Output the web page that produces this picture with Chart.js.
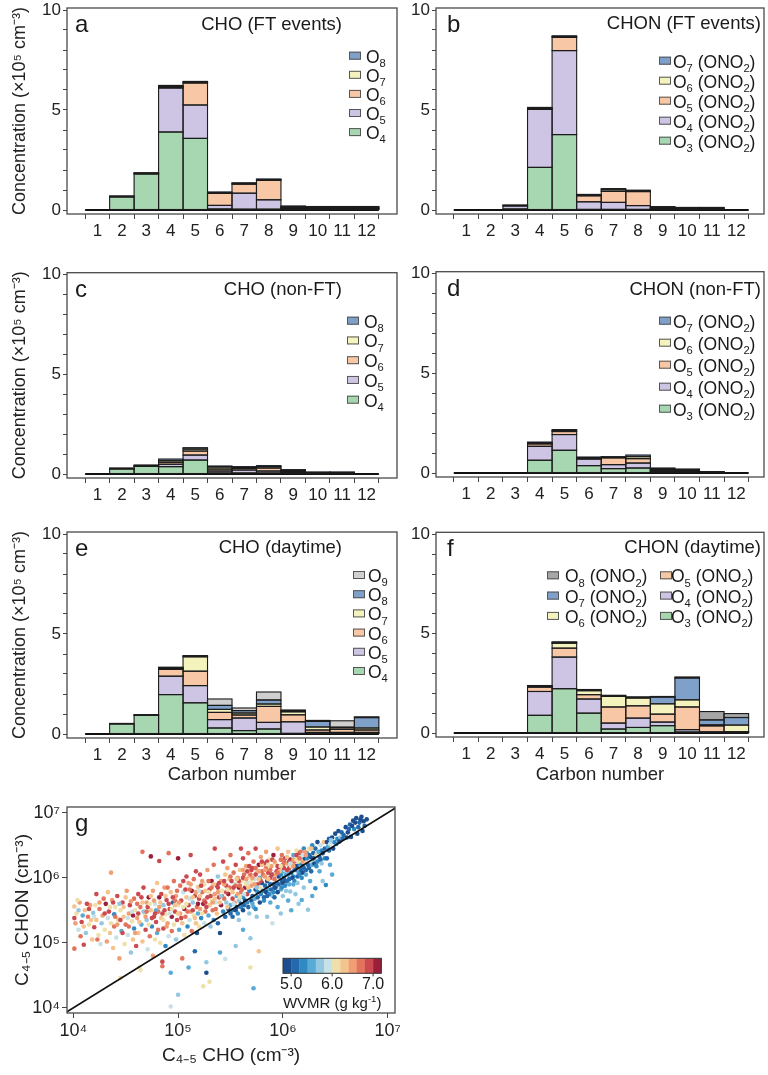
<!DOCTYPE html>
<html><head><meta charset="utf-8">
<script src="https://cdn.jsdelivr.net/npm/chart.js@4.4.0/dist/chart.umd.min.js"></script>
<style>
html,body{margin:0;padding:0;background:#fff;}
#wrap{position:relative;width:768px;height:1075px;overflow:hidden;background:#fff;}
canvas{position:absolute;}
</style></head><body><div id="wrap">
<canvas id="ca" width="400" height="250" style="left:0;top:0"></canvas>
<canvas id="cb" width="368" height="250" style="left:400px;top:0"></canvas>
<canvas id="cc" width="400" height="250" style="left:0;top:260px"></canvas>
<canvas id="cd" width="368" height="250" style="left:400px;top:260px"></canvas>
<canvas id="ce" width="400" height="270" style="left:0;top:520px"></canvas>
<canvas id="cf" width="368" height="270" style="left:400px;top:520px"></canvas>
<canvas id="cg" width="400" height="285" style="left:0;top:790px"></canvas>
</div>
<script>
// ---------------- DATA ----------------
const CARBON = [1,2,3,4,5,6,7,8,9,10,11,12];
const Y_TICKS = [0,1,2,3,4,5,6,7,8,9,10];

// a: CHO (FT events)  (x10^5 cm^-3)
const A_O4 = [0,0.65,1.80,3.90,3.58,0.05,0.04,0.04,0.04,0.035,0.035,0.035];
const A_O5 = [0,0.04,0.03,2.20,1.67,0.18,0.80,0.47,0.04,0.035,0.035,0.035];
const A_O6 = [0,0.01,0.02,0.05,1.10,0.60,0.45,0.97,0.04,0.035,0.035,0.035];
const A_O7 = [0,0,0.01,0.04,0.04,0.04,0.04,0.04,0.04,0.035,0.035,0.035];
const A_O8 = [0,0,0,0.04,0.04,0.03,0.03,0.03,0.04,0.035,0.035,0.035];
// b: CHON (FT events)
const B_O3 = [0,0,0.05,2.13,3.77,0.03,0.03,0.03,0.03,0.03,0.03,0];
const B_O4 = [0,0,0.15,2.90,4.20,0.38,0.35,0.19,0.04,0.03,0.03,0];
const B_O5 = [0,0,0.03,0.03,0.66,0.30,0.55,0.70,0.04,0.03,0.03,0];
const B_O6 = [0,0,0.02,0.04,0.04,0.04,0.08,0.04,0.03,0.02,0.02,0];
const B_O7 = [0,0,0,0.03,0.04,0.03,0.06,0.03,0.03,0.02,0.02,0];
// c: CHO (non-FT)
const C_O4 = [0,0.25,0.38,0.37,0.70,0.05,0.05,0.05,0.04,0.02,0.02,0];
const C_O5 = [0,0.03,0.03,0.12,0.25,0.10,0.15,0.10,0.05,0.02,0.02,0];
const C_O6 = [0,0.02,0.02,0.10,0.20,0.10,0.08,0.15,0.05,0.02,0.02,0];
const C_O7 = [0,0,0.02,0.08,0.10,0.10,0.05,0.07,0.04,0.02,0.02,0];
const C_O8 = [0,0,0,0.08,0.07,0.05,0.04,0.05,0.04,0.02,0.02,0];
// d: CHON (non-FT)
const D_O3 = [0,0,0,0.64,1.14,0.37,0.22,0.25,0.05,0.04,0.02,0];
const D_O4 = [0,0,0,0.70,0.79,0.33,0.20,0.25,0.05,0.04,0.02,0];
const D_O5 = [0,0,0,0.12,0.15,0.04,0.34,0.22,0.05,0.04,0.01,0];
const D_O6 = [0,0,0,0.05,0.05,0.03,0.03,0.10,0.05,0.04,0.01,0];
const D_O7 = [0,0,0,0.04,0.05,0.03,0.03,0.08,0.05,0.04,0.01,0];
// e: CHO (daytime)
const E_O4 = [0,0.50,0.93,1.97,1.56,0.30,0.17,0.25,0.03,0.03,0.03,0.03];
const E_O5 = [0,0.03,0.02,0.92,0.86,0.42,0.63,0.33,0.58,0.05,0.05,0.05];
const E_O6 = [0,0,0.02,0.34,0.72,0.36,0.15,0.80,0.35,0.12,0.15,0.12];
const E_O7 = [0,0,0,0.05,0.72,0.15,0.10,0.12,0.15,0.15,0.08,0.10];
const E_O8 = [0,0,0,0.03,0.03,0.20,0.12,0.20,0.05,0.28,0.03,0.52];
const E_O9 = [0,0,0,0.03,0.03,0.32,0.13,0.40,0.04,0.05,0.32,0.04];
// f: CHON (daytime)
const F_O3 = [0,0,0,0.89,2.23,1.00,0.20,0.28,0.37,0.05,0.03,0.02];
const F_O4 = [0,0,0,1.20,1.59,0.71,0.30,0.47,0.18,0.12,0.03,0.02];
const F_O5 = [0,0,0,0.22,0.45,0.22,0.81,0.62,0.40,1.14,0.30,0.03];
const F_O6 = [0,0,0,0.03,0.25,0.20,0.53,0.39,0.52,0.36,0.05,0.33];
const F_O7 = [0,0,0,0.03,0.03,0.03,0.03,0.03,0.34,1.10,0.25,0.38];
const F_O8 = [0,0,0,0.02,0.04,0.03,0.03,0.03,0.03,0.05,0.42,0.20];

// g: [log10 C4-5 CHO, log10 C4-5 CHON, WVMR g/kg]
const G_SAMPLES = [
[4.01,5.56,6.3],[4.01,5.38,6.8],[4.01,4.91,6.7],[4.03,5.45,6.0],[4.05,5.20,5.9],[4.06,5.62,6.4],[4.08,5.32,6.9],[4.10,4.97,6.9],[4.11,5.50,6.2],[4.12,5.15,5.7],[4.14,5.40,6.6],[4.15,5.28,6.1],[4.16,5.58,6.5],[4.18,5.05,6.3],[4.19,5.46,5.6],[4.20,5.24,6.8],
[4.22,5.75,6.9],[4.22,5.35,6.2],[4.24,5.12,6.0],[4.25,5.52,6.6],[4.26,4.98,5.8],[4.28,5.42,6.4],[4.29,5.68,6.7],[4.30,5.20,6.1],[4.31,5.60,7.0],[4.32,5.02,6.5],[4.33,5.38,5.9],[4.34,5.48,6.8],[4.35,5.15,6.3],[4.36,6.08,6.4],[4.36,5.30,6.0],[4.37,5.66,6.5],[4.38,4.92,6.2],[4.39,5.44,5.3],[4.39,5.25,6.6],[4.40,5.55,6.1],
[4.41,5.08,5.9],[4.42,5.72,6.8],[4.43,5.36,6.3],[4.44,4.76,6.4],[4.45,5.50,6.0],[4.45,4.46,6.0],[4.46,5.18,5.5],[4.47,5.62,6.9],[4.48,5.40,6.2],[4.49,4.98,6.1],[4.50,5.28,6.7],[4.51,5.80,6.5],[4.52,5.12,5.8],[4.53,5.45,6.4],[4.54,5.58,6.9],[4.55,4.85,5.6],[4.56,5.33,6.1],[4.57,5.05,6.3],[4.58,5.68,6.6],[4.58,5.22,5.2],[4.59,5.50,6.0],[4.60,4.95,6.8],
[4.61,5.38,6.5],[4.62,5.75,6.9],[4.62,5.15,6.2],[4.63,4.62,6.0],[4.64,4.58,6.1],[4.64,5.55,6.7],[4.65,5.28,5.4],[4.66,6.40,6.7],[4.66,5.02,6.3],[4.67,5.85,6.8],[4.68,5.45,6.0],[4.69,5.20,6.9],[4.70,5.62,6.4],[4.70,5.35,5.6],[4.71,4.90,5.9],[4.72,5.70,7.0],[4.73,5.10,6.6],[4.74,6.33,7.0],[4.74,5.50,6.2],[4.75,5.25,5.2],[4.76,5.80,6.5],[4.76,4.80,6.4],[4.77,5.40,6.8],[4.78,5.05,6.1],[4.78,5.60,5.8],[4.79,5.32,6.9],[4.80,5.92,6.3],[4.80,5.15,5.5],
[4.81,5.48,6.6],[4.82,6.26,6.8],[4.82,5.70,7.0],[4.83,5.00,6.0],[4.84,5.38,6.3],[4.85,4.71,6.8],[4.85,4.64,6.7],[4.86,5.58,5.6],[4.86,5.22,6.9],[4.87,5.85,6.5],[4.88,5.44,6.1],[4.88,4.95,5.3],[4.89,5.66,6.8],[4.90,5.30,6.4],[4.91,6.38,6.7],[4.91,5.10,5.9],[4.92,5.52,6.9],[4.93,4.54,5.5],[4.93,4.02,5.8],[4.93,5.78,6.2],[4.94,5.40,7.0],[4.94,5.18,6.6],[4.95,5.62,5.1],[4.96,5.95,6.6],[4.96,5.28,6.0],[4.97,5.48,6.8],[4.98,5.05,5.7],[4.98,5.72,6.4],[4.99,5.35,6.9],[5.00,6.30,7.0],[5.00,5.58,6.1],[5.00,4.20,5.7],
[5.01,5.20,5.4],[5.02,5.88,6.7],[5.02,5.45,6.5],[5.03,5.65,6.9],[5.04,4.76,6.7],[5.04,5.30,6.2],[5.05,5.78,5.8],[5.06,5.52,7.0],[5.06,5.12,6.0],[5.07,5.40,6.6],[5.08,6.02,6.8],[5.08,5.70,6.3],[5.09,5.25,5.2],[5.10,5.58,6.9],[5.10,5.92,6.5],[5.10,4.62,5.4],[5.11,5.35,5.9],[5.12,6.35,6.8],[5.12,5.48,6.4],[5.13,5.80,7.0],[5.13,5.18,6.7],[5.14,5.62,5.6],[5.15,5.42,6.1],[5.15,5.98,6.6],[5.16,4.87,5.1],[5.16,5.72,6.9],[5.17,5.30,6.3],[5.18,5.15,4.9],[5.18,5.55,6.7],[5.19,5.86,6.2],[5.19,5.45,5.5],[5.20,5.68,6.8],[5.20,5.25,6.0],
[5.21,6.05,6.9],[5.21,5.52,6.4],[5.22,5.38,5.3],[5.23,5.78,6.7],[5.24,4.33,6.0],[5.24,5.60,7.0],[5.25,5.90,6.1],[5.25,5.30,5.8],[5.26,5.48,6.6],[5.27,4.70,5.6],[5.27,4.54,4.9],[5.28,5.70,6.9],[5.28,6.12,6.5],[5.29,5.42,5.4],[5.30,5.82,6.8],[5.30,5.58,6.3],[5.30,4.40,6.1],[5.31,5.25,5.7],[5.32,5.95,7.0],[5.32,5.65,6.0],[5.33,5.50,6.7],[5.34,6.20,6.6],[5.34,5.35,5.2],[5.35,5.75,6.5],[5.35,6.45,6.8],[5.36,5.62,5.9],[5.37,5.88,6.9],[5.37,5.45,6.2],[5.38,6.02,5.6],[5.38,5.30,5.1],[5.39,5.70,6.8],[5.40,5.15,4.9],[5.40,4.85,5.5],
[5.41,5.95,6.4],[5.41,5.58,7.0],[5.42,5.80,6.0],[5.43,6.25,6.9],[5.43,5.48,5.3],[5.44,5.68,6.6],[5.45,6.05,6.2],[5.45,5.40,5.1],[5.45,4.75,5.9],[5.46,5.88,6.8],[5.46,5.62,5.7],[5.47,6.15,6.5],[5.48,5.52,4.9],[5.48,5.75,7.0],[5.49,5.98,6.3],[5.50,5.58,5.5],[5.50,6.35,6.7],[5.51,5.82,6.1],[5.52,5.68,6.9],[5.52,5.50,5.2],[5.53,6.08,6.6],[5.54,5.90,5.9],[5.54,5.62,6.4],[5.55,6.20,6.8],[5.55,4.95,5.6],[5.56,5.72,5.4],[5.56,5.55,4.9],[5.57,6.00,6.5],[5.58,5.85,7.0],[5.58,5.65,5.6],[5.59,6.12,6.2],[5.60,5.78,6.7],[5.60,5.60,5.1],[5.60,6.45,6.9],
[5.61,5.95,6.1],[5.62,6.30,6.8],[5.62,5.70,5.3],[5.62,5.20,5.5],[5.63,6.05,6.6],[5.64,5.85,7.0],[5.64,5.65,4.9],[5.65,6.18,6.4],[5.66,5.92,5.8],[5.66,5.75,6.9],[5.67,6.38,6.6],[5.68,6.02,6.2],[5.68,5.80,5.2],[5.69,5.07,5.6],[5.69,4.62,6.0],[5.70,6.12,6.9],[5.70,5.88,6.5],[5.71,5.72,5.1],[5.72,4.30,5.5],[5.72,6.25,6.7],[5.73,5.98,5.9],[5.74,5.82,4.9],[5.74,6.45,6.9],[5.75,6.08,6.3],[5.76,5.90,6.8],[5.76,5.78,5.2],[5.77,4.87,6.3],[5.77,6.20,7.0],[5.78,6.00,5.5],[5.78,5.85,6.1],[5.79,6.32,6.5],[5.80,5.92,4.9],[5.80,6.10,6.6],
[5.81,5.80,5.3],[5.82,6.22,6.9],[5.82,6.02,6.2],[5.83,5.88,5.1],[5.84,6.15,6.7],[5.84,6.40,6.5],[5.85,5.95,4.9],[5.85,5.40,5.6],[5.86,6.08,6.8],[5.86,5.82,5.4],[5.87,6.28,6.1],[5.88,6.00,6.9],[5.88,5.90,5.0],[5.89,6.18,6.4],[5.90,5.72,5.6],[5.90,6.05,5.2],[5.91,6.35,7.0],[5.92,5.98,6.6],[5.92,5.85,5.1],[5.93,6.22,6.0],[5.94,6.10,6.8],[5.94,5.92,5.3],[5.95,6.45,6.3],[5.95,5.55,5.5],[5.96,6.02,4.9],[5.96,6.15,6.9],[5.97,5.88,5.8],[5.98,6.28,6.6],[5.98,6.05,5.2],[5.99,5.95,5.0],[6.00,6.20,6.7],[6.00,6.10,5.5],
[6.01,6.00,5.1],[6.02,6.30,6.9],[6.02,6.12,5.9],[6.03,5.95,4.9],[6.04,6.22,6.5],[6.05,6.40,6.2],[6.05,6.05,5.3],[6.05,5.65,5.4],[6.06,6.15,6.8],[6.07,5.79,5.6],[6.07,6.28,7.0],[6.08,6.08,4.9],[6.09,6.20,6.3],[6.10,6.35,5.4],[6.10,6.02,5.2],[6.11,6.25,6.7],[6.12,6.12,5.1],[6.12,5.75,5.6],[6.13,6.42,6.0],[6.13,6.18,4.9],[6.14,6.30,6.6],[6.15,6.08,5.5],[6.16,6.38,6.9],[6.16,6.22,5.2],[6.17,6.12,5.0],[6.18,5.66,5.5],[6.18,6.32,5.8],[6.19,6.25,6.4],[6.20,6.15,5.1],[6.20,6.45,5.3],
[6.21,6.30,4.9],[6.22,6.22,6.2],[6.23,6.38,5.4],[6.24,5.51,5.6],[6.24,6.20,5.1],[6.25,6.45,6.0],[6.26,6.32,4.9],[6.27,6.25,5.9],[6.28,6.50,5.2],[6.29,6.38,5.0],[6.30,6.30,5.7],[6.31,5.84,5.3],[6.31,6.45,5.1],[6.32,6.35,6.1],[6.33,6.55,4.9],[6.34,6.40,5.4],[6.35,6.32,5.0],[6.36,6.50,5.8],[6.37,6.42,5.2],[6.38,6.38,4.9],[6.39,6.55,6.3],[6.40,6.45,5.1],
[6.41,5.89,5.2],[6.42,6.55,4.9],[6.43,6.48,5.5],[6.44,6.60,5.1],[6.45,6.52,5.9],[6.47,6.05,5.4],[6.47,6.62,4.9],[6.49,6.55,5.3],[6.50,6.68,4.9],[6.52,6.60,5.2],[6.53,6.72,4.9],[6.55,6.62,5.6],[6.56,6.70,5.0],[6.58,6.66,5.1],[6.60,6.78,4.9],
[6.62,6.70,4.9],[6.64,6.82,5.1],[6.65,6.63,4.9],[6.67,6.88,4.9],[6.68,6.75,5.2],[6.70,6.92,4.9],[6.71,6.68,4.9],[6.73,6.85,5.1],[6.75,6.94,4.9],[6.76,6.72,4.9],[6.78,6.80,5.0],[6.80,6.90,4.9],
[4.02,5.30,6.5],[4.04,5.66,6.1],[4.07,5.10,6.6],[4.09,5.42,5.5],[4.13,5.60,6.9],[4.17,5.35,6.2],[4.21,5.58,6.0],[4.23,5.05,6.7],[4.27,5.30,5.7],[4.33,5.78,6.3],[4.38,5.62,6.8],[4.42,5.28,6.5],[4.44,5.60,5.6],[4.47,5.15,6.8],[4.50,5.70,6.2],[4.52,5.38,5.9],[4.55,5.64,6.5],[4.57,5.42,7.0],[4.59,5.15,6.4],
[4.61,5.60,6.6],[4.63,5.32,6.2],[4.65,5.70,6.9],[4.67,5.48,5.7],[4.69,5.40,6.5],[4.71,5.55,6.8],[4.72,5.28,6.0],[4.74,5.72,6.3],[4.75,5.38,6.9],[4.77,5.65,6.4],[4.79,5.50,5.4],[4.81,5.20,6.7],[4.83,5.62,6.2],[4.84,5.75,6.9],[4.86,5.35,6.0],[4.87,5.50,6.8],[4.89,5.25,6.4],[4.90,5.85,6.6],[4.92,5.45,5.8],[4.95,5.70,6.9],[4.97,5.58,6.3],[4.99,5.80,6.7],
[5.01,5.62,6.4],[5.03,5.38,6.8],[5.05,5.55,6.1],[5.07,5.82,6.9],[5.09,5.48,6.6],[5.11,5.68,5.9],[5.12,5.90,6.4],[5.14,5.50,6.8],[5.16,5.38,6.2],[5.17,5.78,6.5],[5.19,5.60,7.0],[5.21,5.72,6.2],[5.22,5.88,6.8],[5.23,5.45,6.0],[5.25,5.65,6.7],[5.26,5.80,6.3],[5.27,5.55,6.9],[5.29,5.95,6.6],[5.31,5.72,6.9],[5.33,5.62,6.4],[5.34,5.90,6.2],[5.36,5.52,6.7],[5.38,5.78,6.5],[5.39,5.92,6.9],[5.40,5.62,6.3],
[5.42,5.72,6.7],[5.44,5.90,6.5],[5.46,5.78,6.9],[5.47,5.55,6.3],[5.49,5.85,6.6],[5.51,5.95,6.9],[5.52,5.78,6.2],[5.53,5.60,5.8],[5.55,5.88,6.7],[5.57,5.75,6.4],[5.58,5.95,6.9],[5.59,5.70,6.0],[5.61,5.82,6.6],[5.62,6.00,6.8],[5.63,5.75,5.9],[5.65,5.98,6.5],[5.66,6.10,6.9],[5.67,5.85,6.3],[5.69,6.05,6.7],[5.70,5.95,6.1],[5.71,6.15,6.8],[5.73,5.90,6.4],[5.74,6.05,6.9],[5.75,5.85,5.6],[5.77,6.10,6.5],[5.79,5.95,6.8],[5.80,6.20,6.3],
[5.50,5.45,5.1],[5.55,5.50,4.9],[5.60,5.55,5.3],[5.63,5.58,5.0],[5.66,5.62,5.2],[5.70,5.65,4.9],[5.73,5.68,5.4],[5.76,5.70,5.0],[5.79,5.75,5.2],[5.68,5.45,5.6],[5.72,5.55,5.5],[5.75,5.40,5.7],[5.58,5.35,5.6],
[5.81,6.05,6.7],[5.83,6.12,6.4],[5.85,6.25,6.9],[5.86,5.98,6.2],[5.88,6.12,6.6],[5.90,6.28,6.8],[5.91,5.90,5.0],[5.93,6.05,6.4],[5.95,6.18,6.9],[5.97,6.10,6.2],[5.99,6.35,6.6],[6.01,6.15,6.8],[6.03,6.05,5.4],[6.04,6.32,6.3],[6.06,6.25,6.9],[6.08,6.18,6.1],[6.10,6.28,6.5],[6.11,6.12,5.0],[6.13,6.35,6.8],[6.15,6.25,6.0],[6.17,6.40,6.6],[6.19,6.18,5.1],[6.21,6.40,6.4],[6.23,6.30,5.3],[6.25,6.35,5.0],[6.27,6.45,6.2],[6.29,6.30,4.9],
[5.82,5.70,5.0],[5.84,5.78,4.9],[5.87,5.75,5.2],[5.89,5.82,5.0],[5.91,5.78,5.3],[5.93,5.85,4.9],[5.96,5.90,5.1],[5.98,5.82,5.4],[6.00,5.92,4.9],[6.02,5.88,5.2],[6.04,5.95,5.0],[6.06,5.90,5.5],[6.09,6.00,4.9],[6.11,5.95,5.3],[6.14,6.02,5.0],[6.16,6.05,5.2],[6.19,6.08,4.9],[6.22,6.12,5.1],[6.25,6.15,5.0],[6.28,6.20,5.4],[6.30,6.22,4.9],[6.33,6.25,5.2],[6.36,6.28,5.0],[6.20,5.85,5.6],[6.26,5.95,5.5],[6.35,6.10,5.4],[6.00,5.72,5.6],
[6.40,6.30,5.3],[6.44,6.42,5.0],[6.46,6.58,5.6],[6.48,6.45,4.9],[6.51,6.52,5.2],[6.54,6.56,4.9],[6.57,6.60,5.1],[6.61,6.62,4.9],[6.63,6.75,5.0],[6.66,6.80,4.9],[6.69,6.85,4.9],[6.72,6.78,5.0],[6.74,6.90,4.9],[6.77,6.87,4.9],
[5.05,5.95,6.8],[5.08,5.60,6.0],[5.11,5.82,6.7],[5.14,5.70,6.2],[5.17,6.10,6.9],[5.20,5.80,5.9],[5.23,5.95,6.5],[5.26,5.62,6.8],[5.29,5.78,6.1],[5.32,5.85,6.7],[5.35,5.68,6.3],[5.38,5.85,6.9],[5.41,5.72,5.6],[5.44,5.95,6.8],[5.47,5.82,6.1],[5.50,6.02,6.6],[5.53,5.85,6.9],[5.56,5.98,6.3],[5.59,5.88,6.7],[5.62,6.12,6.5],[5.65,5.90,6.0],[5.68,6.18,6.9],[5.71,6.00,6.4],[5.74,6.15,6.7],[5.77,5.98,6.2],[5.80,6.25,6.9],[5.83,6.02,6.5],[5.86,6.20,6.1],[5.89,6.05,6.8],[5.92,6.25,6.4],[5.95,6.08,6.7],[5.98,6.18,6.0],[6.01,6.25,6.6],[6.04,6.12,6.9],[6.07,6.22,5.8],[6.10,6.18,6.4],[6.13,6.28,6.1],[6.16,6.30,6.7],[6.19,6.35,5.9],[6.22,6.35,6.5],
[5.52,5.40,5.0],[5.57,5.45,5.3],[5.62,5.50,4.9],[5.67,5.55,5.1],[5.71,5.60,5.4],[5.74,5.52,5.2],[5.78,5.62,4.9],[5.82,5.65,5.3],[5.85,5.72,5.0],[5.88,5.62,5.5],[5.92,5.70,5.1],[5.95,5.78,4.9],[5.99,5.85,5.3],[6.03,5.80,5.6],[6.06,5.98,5.0],[6.10,5.90,5.4],[6.14,5.92,5.7],[6.18,6.00,5.2],[6.22,6.05,5.5],[6.27,6.10,5.0],[6.32,6.18,5.3],[6.37,6.22,5.6],[6.42,6.30,5.1],[6.15,5.60,5.6],[6.28,5.72,5.5],[6.38,5.95,5.7],[5.98,5.45,5.6],[5.90,5.30,5.8],[6.08,5.50,5.5],[6.45,6.20,5.4],
[4.45,5.35,6.9],[4.48,5.55,6.3],[4.53,5.25,6.7],[4.56,5.48,5.8],[4.62,5.45,6.9],[4.66,5.62,6.3],[4.70,5.48,6.6],[4.73,5.60,6.0],[4.78,5.45,6.9],[4.82,5.55,6.4],[4.85,5.45,6.8],[4.88,5.72,6.2],[4.91,5.60,6.9],[4.94,5.52,6.0],[4.97,5.65,6.7],[5.00,5.45,6.3],[4.10,5.25,6.3],[4.15,5.52,6.9],[4.20,5.40,5.8],[4.25,5.62,6.4],[4.30,5.45,6.8],[4.35,5.55,6.0],[4.40,5.40,6.6],[4.05,5.50,5.6]
];
const G_TICKS = [1e4,1e5,1e6,1e7];
const WV_MIN = 4.8, WV_STEP = 0.2;
const WV_LABELS = [5.0,6.0,7.0];
const CMAP = ['#1d4f8f','#2469ab','#2f8ac4','#5aaad6','#93c8e0','#c8e1e6','#eee0a8','#f5c38c','#f09f74','#e2735c','#cb4a4f','#9b1f3a'];

// ---------------- STYLE ----------------
const FONT = "'Liberation Sans', Arial, Helvetica, sans-serif";
const COL = {O3:'#a6d7b0', O4:'#cdc5e3', O5:'#f8c8a6', O6:'#f4f2bd', O7:'#7fa0c8', O8:'#a6a6a6', O9:'#cfcfcf'};
const COL_CHO = {O4:'#a6d7b0', O5:'#cdc5e3', O6:'#f8c8a6', O7:'#f4f2bd', O8:'#7fa0c8', O9:'#cfcfcf'};

Chart.defaults.font.family = FONT;
Chart.defaults.color = '#222';
Chart.defaults.animation = false;
Chart.defaults.plugins.legend.display = false;
Chart.defaults.plugins.tooltip.enabled = false;

const SUB = {'₀':'0','₁':'1','₂':'2','₃':'3','₄':'4','₅':'5','₆':'6','₇':'7','₈':'8','₉':'9','₋':'-'};
const SUP = {'⁰':'0','¹':'1','²':'2','³':'3','⁴':'4','⁵':'5','⁶':'6','⁷':'7','⁸':'8','⁹':'9','⁻':'-'};
function runsOf(text){
  const runs=[];
  for (const ch of text){
    let t='n', c=ch;
    if (SUB[ch]!==undefined){t='sub';c=SUB[ch];} else if (SUP[ch]!==undefined){t='sup';c=SUP[ch];}
    const last=runs[runs.length-1];
    if (last && last.t===t) last.s+=c; else runs.push({t:t,s:c});
  }
  return runs;
}
function drawRich(ctx,text,x,y,size,align){
  const runs=runsOf(text);
  const fontFor=t=>((t==='n')?size:(size*0.64))+'px '+FONT;
  let w=0;
  runs.forEach(r=>{ctx.font=fontFor(r.t); r.w=ctx.measureText(r.s).width; w+=r.w;});
  let cx = align==='right' ? x-w : (align==='center' ? x-w/2 : x);
  ctx.textAlign='left'; ctx.textBaseline='alphabetic';
  runs.forEach(r=>{ctx.font=fontFor(r.t); const dy = r.t==='sub'? size*0.24 : (r.t==='sup'? -size*0.40 : 0); ctx.fillText(r.s,cx,y+dy); cx+=r.w;});
}

// outlines every stacked bar segment (centred strokes, like the original plotting software)
const outlinePlugin = {
  id:'outline',
  afterDatasetsDraw(chart){
    const ctx=chart.ctx;
    ctx.save();
    ctx.strokeStyle='#1c1c1c'; ctx.lineWidth=1.1;
    chart.getSortedVisibleDatasetMetas().forEach(meta=>{
      if (meta.type!=='bar') return;
      meta.data.forEach(el=>{
        const p=el.getProps(['x','y','base','width'], true);
        const h=Math.abs(p.base-p.y);
        if (h<=0.001) return;
        ctx.strokeRect(p.x-p.width/2, Math.min(p.y,p.base), p.width, h);
      });
    });
    ctx.restore();
  }
};

const decorPlugin = {
  id:'decor',
  afterDraw(chart, args, o){
    const ctx=chart.ctx, ca=chart.chartArea;
    ctx.save();
    ctx.strokeStyle='#4a4a4a'; ctx.lineWidth=1.3;
    ctx.strokeRect(ca.left, ca.top, ca.right-ca.left, ca.bottom-ca.top);
    ctx.fillStyle='#1a1a1a';
    if (o.letter){ ctx.font='24px '+FONT; ctx.textAlign='left'; ctx.textBaseline='alphabetic'; ctx.fillText(o.letter, ca.left+o.letterDx, ca.top+24); }
    if (o.title){ drawRich(ctx, o.title, ca.left+o.titleRight, ca.top+o.titleDy, 18.5, 'right'); }
    if (o.legend){
      const L=o.legend;
      L.cols.forEach(col=>{
        col.items.forEach((lab,i)=>{
          const ds=chart.data.datasets.find(d=>d.label===lab);
          const cy=ca.top+L.row0+i*L.step;
          ctx.fillStyle=ds.backgroundColor;
          ctx.fillRect(ca.left+col.box, cy-5, 12, 8);
          ctx.strokeStyle='#555'; ctx.lineWidth=1;
          ctx.strokeRect(ca.left+col.box+0.5, cy-4.5, 11, 7);
          ctx.fillStyle='#1a1a1a';
          drawRich(ctx, lab, ca.left+col.text, cy+6, 17.5, 'left');
        });
      });
    }
    if (o.colorbar){
      const cb=o.colorbar, x0=ca.left+cb.x0, y0=ca.top+cb.y0, n=CMAP.length, wStep=cb.w/n;
      CMAP.forEach((c,i)=>{ ctx.fillStyle=c; ctx.fillRect(x0+i*wStep, y0, wStep+0.3, cb.h); });
      ctx.strokeStyle='#333'; ctx.lineWidth=1; ctx.strokeRect(x0, y0, cb.w, cb.h);
      ctx.fillStyle='#1a1a1a';
      WV_LABELS.forEach(v=>{
        const x=x0+(v-WV_MIN)/(WV_STEP*n)*cb.w;
        ctx.beginPath(); ctx.moveTo(x,y0+cb.h); ctx.lineTo(x,y0+cb.h+3); ctx.stroke();
        drawRich(ctx, v.toFixed(1), x, y0+cb.h+16, 16, 'center');
      });
      drawRich(ctx, 'WVMR (g kg⁻¹)', x0+cb.w/2, y0+cb.h+35, 15, 'center');
    }
    ctx.restore();
  }
};

function barPanel(id, geo, series, deco){
  const datasets=[{type:'line', label:'_zero', data:[{x:0.5,y:0},{x:12.5,y:0}], borderColor:'#111', borderWidth:2, pointRadius:0}];
  series.forEach(s=>datasets.push({type:'bar', label:s.label, data:CARBON.map((c,i)=>({x:c,y:s.values[i]})), backgroundColor:s.color, borderWidth:0, barPercentage:1, categoryPercentage:1}));
  new Chart(document.getElementById(id), {
    data:{datasets},
    options:{
      responsive:false, animation:false,
      layout:{padding:{top:geo.padTop, right:geo.padRight, left:0, bottom:0}},
      scales:{
        x:{type:'linear', min:geo.xmin, max:geo.xmax, stacked:true,
           afterBuildTicks:s=>{s.ticks=CARBON.map(v=>({value:v}));},
           afterFit:s=>{s.height=geo.xH; s.paddingLeft=0; s.paddingRight=0;},
           grid:{drawOnChartArea:false, tickLength:5, color:'#444'}, border:{display:false},
           ticks:{font:{size:17}, padding:2, autoSkip:false, maxRotation:0, color:'#222', callback:v=>String(v)},
           title:{display:!!geo.xTitle, text:'Carbon number', font:{size:18.5}, color:'#222', padding:{top:0,bottom:4}}},
        y:{min:-0.2, max:10.1, stacked:true,
           afterBuildTicks:s=>{s.ticks=Y_TICKS.map(v=>({value:v}));},
           afterFit:s=>{s.width=geo.yW; s.paddingTop=0; s.paddingBottom=0;},
           grid:{drawOnChartArea:false, tickLength:4, color:'#444'}, border:{display:false},
           ticks:{font:{size:17}, padding:2, autoSkip:false, color:'#222', callback:v=>(v%5===0?String(v):'')},
           title:{display:!!geo.yTitle, text:'Concentration (×10⁵ cm⁻³)', font:{size:18}, color:'#222', padding:{top:9,bottom:0}}}
      },
      plugins:{decor:deco}
    },
    plugins:[outlinePlugin, decorPlugin]
  });
}

const LEFT_GEO = {xmin:0.32, xmax:12.68, yW:67, padRight:3, yTitle:true};
const RIGHT_GEO = {xmin:0.33, xmax:12.57, yW:36, padRight:4, yTitle:false};

barPanel('ca', Object.assign({}, LEFT_GEO, {padTop:8, xH:36}), [
  {label:'O₄', values:A_O4, color:COL_CHO.O4},{label:'O₅', values:A_O5, color:COL_CHO.O5},
  {label:'O₆', values:A_O6, color:COL_CHO.O6},{label:'O₇', values:A_O7, color:COL_CHO.O7},
  {label:'O₈', values:A_O8, color:COL_CHO.O8}],
  {letter:'a', letterDx:8, title:'CHO (FT events)', titleRight:275, titleDy:22,
   legend:{row0:48.7, step:19.1, cols:[{box:282, text:299, items:['O₈','O₇','O₆','O₅','O₄']}]}});

barPanel('cb', Object.assign({}, RIGHT_GEO, {padTop:8, xH:36}), [
  {label:'O₃ (ONO₂)', values:B_O3, color:COL.O3},{label:'O₄ (ONO₂)', values:B_O4, color:COL.O4},
  {label:'O₅ (ONO₂)', values:B_O5, color:COL.O5},{label:'O₆ (ONO₂)', values:B_O6, color:COL.O6},
  {label:'O₇ (ONO₂)', values:B_O7, color:COL.O7}],
  {letter:'b', letterDx:11, title:'CHON (FT events)', titleRight:325, titleDy:21,
   legend:{row0:53.7, step:20, cols:[{box:223, text:237, items:['O₇ (ONO₂)','O₆ (ONO₂)','O₅ (ONO₂)','O₄ (ONO₂)','O₃ (ONO₂)']}]}});

barPanel('cc', Object.assign({}, LEFT_GEO, {padTop:12.7, xH:32}), [
  {label:'O₄', values:C_O4, color:COL_CHO.O4},{label:'O₅', values:C_O5, color:COL_CHO.O5},
  {label:'O₆', values:C_O6, color:COL_CHO.O6},{label:'O₇', values:C_O7, color:COL_CHO.O7},
  {label:'O₈', values:C_O8, color:COL_CHO.O8}],
  {letter:'c', letterDx:8, title:'CHO (non-FT)', titleRight:275, titleDy:22,
   legend:{row0:49, step:19.75, cols:[{box:280, text:297, items:['O₈','O₇','O₆','O₅','O₄']}]}});

barPanel('cd', Object.assign({}, RIGHT_GEO, {padTop:11.7, xH:33}), [
  {label:'O₃ (ONO₂)', values:D_O3, color:COL.O3},{label:'O₄ (ONO₂)', values:D_O4, color:COL.O4},
  {label:'O₅ (ONO₂)', values:D_O5, color:COL.O5},{label:'O₆ (ONO₂)', values:D_O6, color:COL.O6},
  {label:'O₇ (ONO₂)', values:D_O7, color:COL.O7}],
  {letter:'d', letterDx:11, title:'CHON (non-FT)', titleRight:325, titleDy:23,
   legend:{row0:50, step:22, cols:[{box:223, text:237, items:['O₇ (ONO₂)','O₆ (ONO₂)','O₅ (ONO₂)','O₄ (ONO₂)','O₃ (ONO₂)']}]}});

barPanel('ce', Object.assign({}, LEFT_GEO, {padTop:12, xH:52, xTitle:true}), [
  {label:'O₄', values:E_O4, color:COL_CHO.O4},{label:'O₅', values:E_O5, color:COL_CHO.O5},
  {label:'O₆', values:E_O6, color:COL_CHO.O6},{label:'O₇', values:E_O7, color:COL_CHO.O7},
  {label:'O₈', values:E_O8, color:COL_CHO.O8},{label:'O₉', values:E_O9, color:COL_CHO.O9}],
  {letter:'e', letterDx:8, title:'CHO (daytime)', titleRight:275, titleDy:21,
   legend:{row0:44, step:19.2, cols:[{box:286, text:301, items:['O₉','O₈','O₇','O₆','O₅','O₄']}]}});

barPanel('cf', Object.assign({}, RIGHT_GEO, {padTop:12.3, xH:53, xTitle:true}), [
  {label:'O₃ (ONO₂)', values:F_O3, color:COL.O3},{label:'O₄ (ONO₂)', values:F_O4, color:COL.O4},
  {label:'O₅ (ONO₂)', values:F_O5, color:COL.O5},{label:'O₆ (ONO₂)', values:F_O6, color:COL.O6},
  {label:'O₇ (ONO₂)', values:F_O7, color:COL.O7},{label:'O₈ (ONO₂)', values:F_O8, color:COL.O8}],
  {letter:'f', letterDx:11, title:'CHON (daytime)', titleRight:325, titleDy:21,
   legend:{row0:44, step:20.3, cols:[{box:111, text:129, items:['O₈ (ONO₂)','O₇ (ONO₂)','O₆ (ONO₂)']},{box:224, text:235, items:['O₅ (ONO₂)','O₄ (ONO₂)','O₃ (ONO₂)']}]}});

// ---------------- panel g ----------------
function wvColor(w){ let i=Math.floor((w-WV_MIN)/WV_STEP+1e-9); i=Math.max(0,Math.min(CMAP.length-1,i)); return CMAP[i]; }
const SUPD = ['⁰','¹','²','³','⁴','⁵','⁶','⁷','⁸','⁹'];
new Chart(document.getElementById('cg'), {
  type:'scatter',
  data:{datasets:[
    {type:'line', label:'1:1', data:[{x:10**3.85,y:10**3.85},{x:10**7.2,y:10**7.2}], borderColor:'#111', borderWidth:1.6, pointRadius:0},
    {type:'scatter', label:'C4-5', data:G_SAMPLES.map(p=>({x:10**p[0], y:10**p[1]})),
     pointBackgroundColor:G_SAMPLES.map(p=>wvColor(p[2])), pointBorderWidth:0, pointRadius:2.3}
  ]},
  options:{
    responsive:false, animation:false,
    layout:{padding:{top:17, right:5, left:0, bottom:0}},
    scales:{
      x:{type:'logarithmic', min:10**3.94, max:10**7.07,
         afterBuildTicks:s=>{s.ticks=G_TICKS.map(v=>({value:v}));},
         afterFit:s=>{s.height=62; s.paddingLeft=0; s.paddingRight=0;},
         grid:{drawOnChartArea:false, tickLength:5, color:'#444'}, border:{display:false},
         ticks:{font:{size:18}, padding:2, autoSkip:false, maxRotation:0, color:'#222', callback:v=>'10'+SUPD[Math.round(Math.log10(v))]},
         title:{display:true, text:'C₄₋₅ CHO (cm⁻³)', font:{size:19}, color:'#222', padding:{top:0,bottom:8}}},
      y:{type:'logarithmic', min:10**3.92, max:10**7.09,
         afterBuildTicks:s=>{s.ticks=G_TICKS.map(v=>({value:v}));},
         afterFit:s=>{s.width=67; s.paddingTop=0; s.paddingBottom=0;},
         grid:{drawOnChartArea:false, tickLength:5, color:'#444'}, border:{display:false},
         ticks:{font:{size:18}, padding:2, autoSkip:false, color:'#222', callback:v=>'10'+SUPD[Math.round(Math.log10(v))]},
         title:{display:true, text:'C₄₋₅ CHON (cm⁻³)', font:{size:19}, color:'#222', padding:{top:11,bottom:0}}}
    },
    plugins:{decor:{letter:'g', letterDx:8, colorbar:{x0:216, y0:151.3, w:98.3, h:15}}}
  },
  plugins:[decorPlugin]
});
</script>
</body></html>
